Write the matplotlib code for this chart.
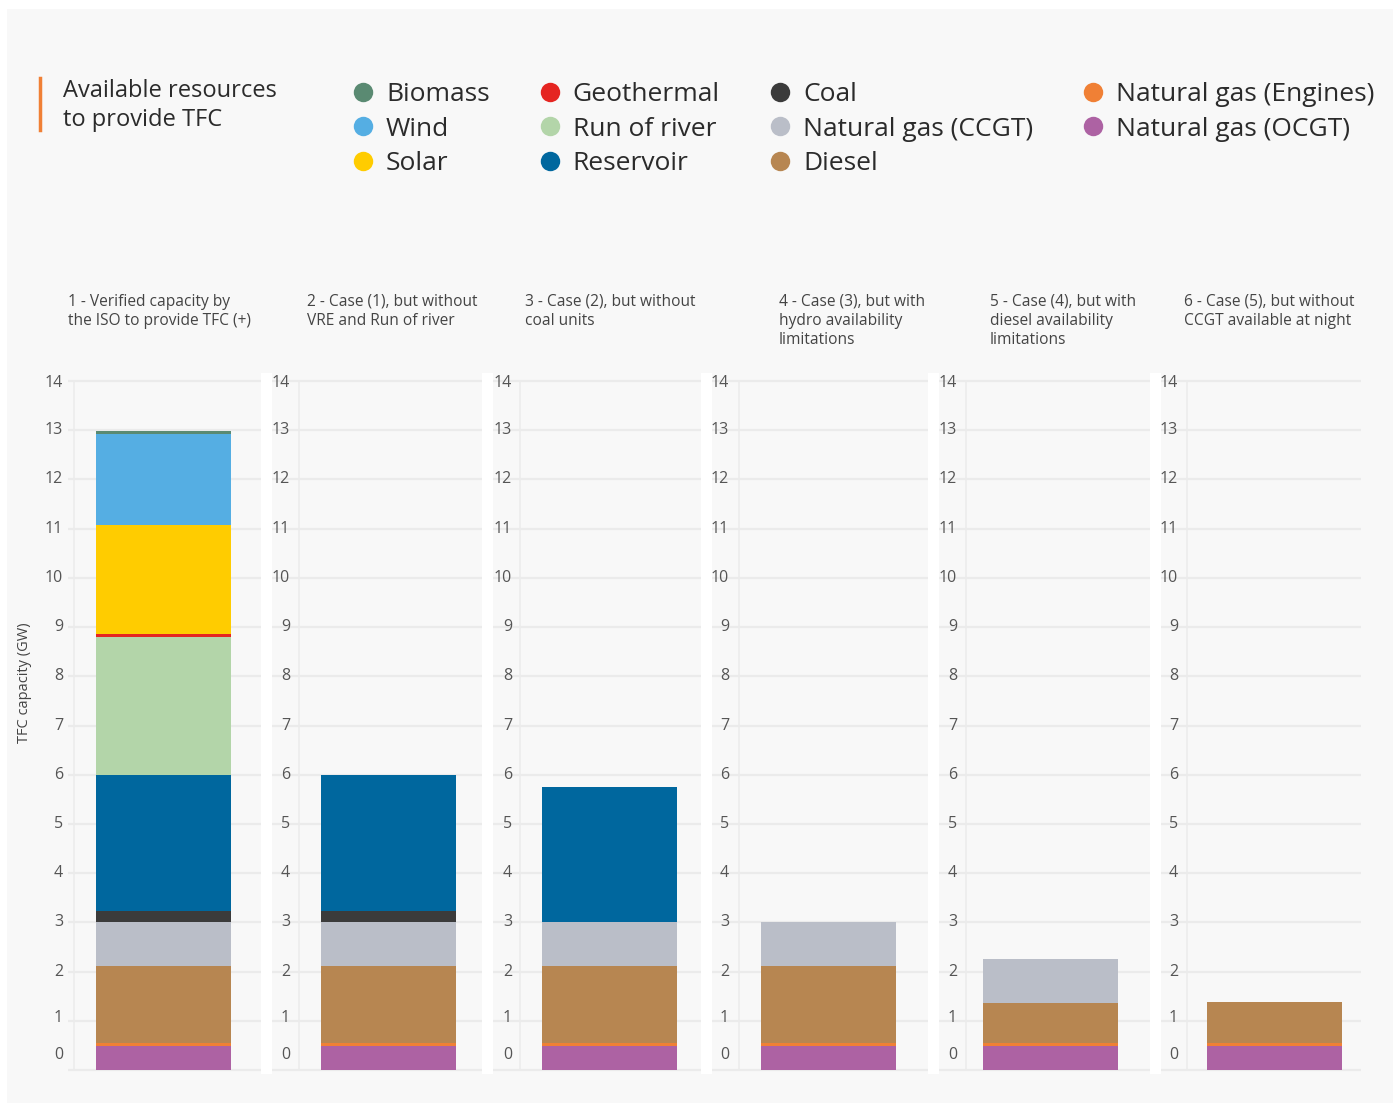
import numpy as np
import matplotlib.pyplot as plt
from matplotlib.lines import Line2D
from matplotlib.patches import Rectangle

plt.rcParams['font.family'] = ['Open Sans', 'DejaVu Sans']

W, H = 1395, 1103

# data (GW), six cases
cases = [
    "1 - Verified capacity by\nthe ISO to provide TFC (+)",
    "2 - Case (1), but without\nVRE and Run of river",
    "3 - Case (2), but without\ncoal units",
    "4 - Case (3), but with\nhydro availability\nlimitations",
    "5 - Case (4), but with\ndiesel availability\nlimitations",
    "6 - Case (5), but without\nCCGT available at night",
]
ocgt = [0.49, 0.49, 0.49, 0.49, 0.49, 0.49]
engines = [0.06, 0.06, 0.06, 0.06, 0.06, 0.06]
diesel = [1.56, 1.56, 1.56, 1.56, 0.81, 0.83]
ccgt = [0.89, 0.89, 0.89, 0.89, 0.89, 0.0]
coal = [0.24, 0.24, 0.0, 0.0, 0.0, 0.0]
reservoir = [2.76, 2.76, 2.76, 0.0, 0.0, 0.0]
run_of_river = [2.80, 0.0, 0.0, 0.0, 0.0, 0.0]
geothermal = [0.05, 0.0, 0.0, 0.0, 0.0, 0.0]
solar = [2.22, 0.0, 0.0, 0.0, 0.0, 0.0]
wind = [1.85, 0.0, 0.0, 0.0, 0.0, 0.0]
biomass = [0.07, 0.0, 0.0, 0.0, 0.0, 0.0]

# stacking order, bottom -> top
stack = [
    ("Natural gas (OCGT)", ocgt, "#ad62a3"),
    ("Natural gas (Engines)", engines, "#f08035"),
    ("Diesel", diesel, "#b78651"),
    ("Natural gas (CCGT)", ccgt, "#babec8"),
    ("Coal", coal, "#3b3b3b"),
    ("Reservoir", reservoir, "#00679e"),
    ("Run of river", run_of_river, "#b3d5a9"),
    ("Geothermal", geothermal, "#e52521"),
    ("Solar", solar, "#ffcc00"),
    ("Wind", wind, "#55aee3"),
    ("Biomass", biomass, "#5a8a72"),
]
legend_order = ["Biomass", "Wind", "Solar", "Geothermal", "Run of river", "Reservoir",
                "Coal", "Natural gas (CCGT)", "Diesel", "Natural gas (Engines)", "Natural gas (OCGT)"]
yticks = list(range(15))

# panel layout in pixels: gridline start, axis line, right end, bar left, label right, title x
panels = [
    (68, 74, 261, 96, 63, 68),
    (272, 299, 482, 321, 290, 307),
    (493, 520, 701, 542, 512, 525),
    (712, 739, 928, 761, 729, 779),
    (939, 966, 1150, 983, 957, 990),
    (1161, 1187, 1361, 1207, 1178, 1184),
]
BARW = 135
GRID = '#ebebeb'
y0, y14 = 1070, 381
ppu = (y0 - y14) / 14.0
pad = 0.05

fig = plt.figure(figsize=(W / 100, H / 100), dpi=100)
fig.patch.set_facecolor('white')
fig.add_artist(Rectangle((7 / W, 0), (1393 - 7) / W, (H - 9) / H, transform=fig.transFigure,
                         facecolor='#f8f8f8', edgecolor='none', zorder=-10))
# white separators between panels
for gstart, *_ in panels[1:]:
    fig.add_artist(Rectangle(((gstart - 11) / W, 1 - 1074 / H), 11 / W, (1074 - 373) / H,
                             transform=fig.transFigure, facecolor='white', edgecolor='none', zorder=-5))

label_dy = {0: 15, 1: 3, 14: -2}
for i, (gstart, vline, right, barl, labr, tx) in enumerate(panels):
    bot = y0 + pad * ppu
    top = y14 - pad * ppu
    ax = fig.add_axes([vline / W, 1 - bot / H, (right - vline) / W, (bot - top) / H])
    ax.set_facecolor('none')
    ax.set_xlim(0, right - vline)
    ax.set_ylim(-pad, 14 + pad)
    ax.set_yticks(yticks)
    ax.set_yticklabels([])
    ax.set_xticks([])
    ax.yaxis.grid(True, color=GRID, linewidth=1.6)
    ax.set_axisbelow(True)
    ax.tick_params(axis='y', direction='out', length=(vline - gstart) * 0.72, width=1.6, color=GRID)
    for s in ['top', 'right', 'bottom']:
        ax.spines[s].set_visible(False)
    ax.spines['left'].set_color('#ececec')
    ax.spines['left'].set_linewidth(1.2)
    ax.spines['left'].set_bounds(0, 14)

    bottom = 0.0
    for name, vals, col in stack:
        ax.bar(barl - vline, vals[i], width=BARW, bottom=bottom, align='edge', color=col, linewidth=0)
        bottom += vals[i]

    for t in yticks:
        ax.annotate(str(t), xy=(0, t), xycoords=ax.get_yaxis_transform(),
                    xytext=(labr - vline, label_dy.get(t, 0)), textcoords='offset pixels',
                    ha='right', va='center', fontsize=11.5, color='#555555')

    fig.text(tx / W, 1 - 294 / H, cases[i], ha='left', va='top', fontsize=11.2,
             color='#444444', linespacing=1.27)

fig.text(25 / W, 1 - 683 / H, 'TFC capacity (GW)', rotation=90, ha='center', va='center',
         fontsize=10.5, color='#444444')

# header
fig.add_artist(Line2D([40 / W, 40 / W], [1 - 78 / H, 1 - 130 / H], color='#f08035', linewidth=2.5))
fig.text(63 / W, 1 - 79 / H, 'Available resources\nto provide TFC', ha='left', va='top',
         fontsize=17, color='#2b2b2b', linespacing=1.25)

colors = {name: col for name, _, col in stack}
handles = [Line2D([], [], marker='o', linestyle='none', markersize=14, markeredgewidth=0,
                  color=colors[n]) for n in legend_order]
fig.legend(handles, legend_order, loc='upper left', bbox_to_anchor=(353 / W, 1 - 82 / H),
           ncol=4, frameon=False, fontsize=19, borderpad=0, borderaxespad=0, handlelength=0.75,
           handletextpad=0.5, columnspacing=1.9, labelspacing=0.36, labelcolor='#2b2b2b')

fig.savefig('out.png', dpi=100, facecolor='white')
